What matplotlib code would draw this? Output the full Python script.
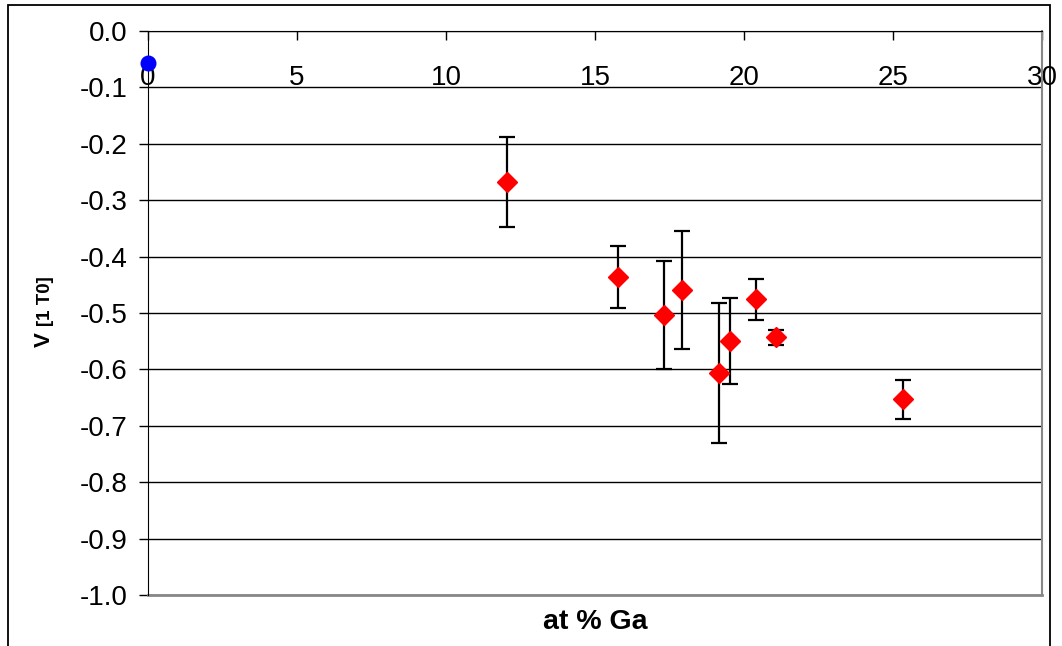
import matplotlib.pyplot as plt
from matplotlib.patches import Rectangle

plt.rcParams['font.family'] = ['Liberation Sans', 'DejaVu Sans']

# measured points (at % Ga, velocity, error)
ga = [12.05, 15.78, 17.33, 17.93, 19.15, 19.54, 20.41, 21.09, 25.34]
v = [-0.268, -0.436, -0.504, -0.459, -0.606, -0.550, -0.476, -0.543, -0.653]
err = [0.080, 0.055, 0.096, 0.104, 0.124, 0.076, 0.036, 0.013, 0.035]

# reference point at 0 % Ga
ga0 = [0]
v0 = [-0.056]

xticks = [0, 5, 10, 15, 20, 25, 30]
yticks = [0.0, -0.1, -0.2, -0.3, -0.4, -0.5, -0.6, -0.7, -0.8, -0.9, -1.0]

fig = plt.figure(figsize=(10.62, 6.46), dpi=100)
ax = fig.add_axes([148 / 1062, 1 - 595 / 646, (1042 - 148) / 1062, (595 - 31) / 646])

ax.errorbar(ga, v, yerr=err, fmt='D', color='red', ms=10.5, mec='red',
            ecolor='black', elinewidth=1.6, capsize=5.5, capthick=1.6, zorder=3)
ax.plot(ga0, v0, 'o', color='blue', ms=10.5, clip_on=False, zorder=4)

ax.set_xlim(0, 30)
ax.set_ylim(-1.0, 0.0)
ax.set_xticks(xticks)
ax.set_yticks(yticks)
ax.set_yticklabels([f'{t:.1f}' for t in yticks])
ax.tick_params(axis='y', labelsize=20, length=6.5, width=1, direction='out', pad=8)
ax.tick_params(axis='x', labelsize=20, length=6.5, width=1, direction='out', pad=18)

for t in yticks:
    ax.axhline(t, color='black', lw=1, zorder=1)

# x axis sits on y = 0
ax.spines['bottom'].set_position(('data', 0.0))
ax.spines['bottom'].set_color('black')
ax.spines['left'].set_color('black')
ax.spines['top'].set_visible(False)
ax.spines['right'].set_color('#888888')
ax.spines['right'].set_linewidth(1.5)

# grey frame bottom of the plot area
ax.plot([0, 30], [-1.0, -1.0], color='#888888', lw=2, clip_on=False, zorder=2)

fig.text(595 / 1062, 1 - 622 / 646, 'at % Ga', fontsize=20.5, fontweight='bold',
         ha='center', va='center')
fig.text(44 / 1062, 1 - 340 / 646, 'V', fontsize=16, fontweight='bold',
         rotation=90, ha='center', va='center')
fig.text(45 / 1062, 1 - 301 / 646, '[1 T0]', fontsize=13.5, fontweight='bold',
         rotation=90, ha='center', va='center')

fig.patches.append(Rectangle((8 / 1062, -0.01), (1050 - 8) / 1062, 1 - 5 / 646 + 0.01,
                             transform=fig.transFigure, fill=False,
                             edgecolor='black', lw=1.3))

fig.savefig('out.png', dpi=100)
